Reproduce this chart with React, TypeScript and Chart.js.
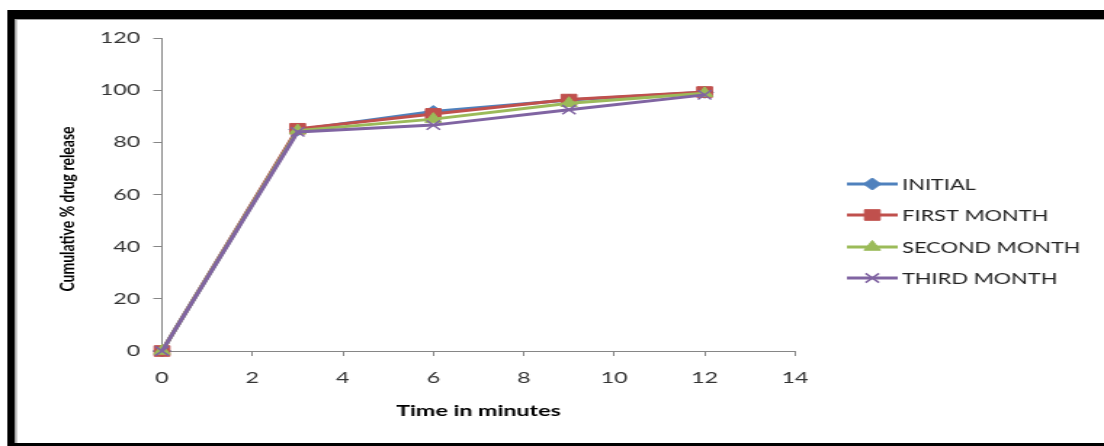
import React, { useEffect, useRef } from 'react';
import { Chart, registerables } from 'chart.js';
import { drawPoint } from 'chart.js/helpers';

Chart.register(...registerables);

// ---- data ----
const times = [0, 3, 6, 9, 12];
const initial = [0, 84.8, 91.8, 96.2, 99.2];
const firstMonth = [0, 85.2, 90.9, 96.4, 99.3];
const secondMonth = [0, 84.5, 88.9, 95.0, 98.8];
const thirdMonth = [0, 84.0, 86.6, 92.5, 98.2];
const seriesNames = ['INITIAL', 'FIRST MONTH', 'SECOND MONTH', 'THIRD MONTH'];
const yTitle = 'Cumulative % drug release';
const xTitle = 'Time in minutes';

// ---- styles ----
const colors = ['#4F81BD', '#C0504D', '#9BBB59', '#8064A2'];
const pointStyles = ['rectRot', 'rect', 'triangle', 'crossRot'];
const pointRadii = [6, 7.5, 6.5, 6.5];

const W = 760;
const H = 446;
const DISPLAY_W = 1104;

const decor = {
  id: 'decor',
  beforeDraw(chart: any) {
    const ctx = chart.ctx;
    ctx.save();
    ctx.fillStyle = '#ffffff';
    ctx.fillRect(0, 0, chart.width, chart.height);
    ctx.fillStyle = '#000000';
    ctx.fillRect(5, 10, chart.width - 5, 9);
    ctx.fillRect(5, 10, 5.3, chart.height - 10);
    ctx.fillRect(5, 443, chart.width - 5, 3);
    ctx.fillStyle = '#a0a0a0';
    ctx.fillRect(10.3, 19, 1.2, 424);
    ctx.fillRect(10.3, 19, chart.width, 1);
    ctx.restore();
  },
  afterDraw(chart: any) {
    const ctx = chart.ctx;
    ctx.save();
    // y axis title
    ctx.translate(46.1, 209);
    ctx.rotate(-Math.PI / 2);
    ctx.font = 'bold 14px Lato';
    ctx.fillStyle = '#000000';
    ctx.textAlign = 'center';
    ctx.textBaseline = 'middle';
    ctx.fillText(yTitle, 0, 0);
    ctx.restore();

    // legend
    const ys = [184, 215, 247, 278];
    chart.data.datasets.forEach((ds: any, i: number) => {
      const y = ys[i];
      ctx.save();
      ctx.strokeStyle = ds.borderColor;
      ctx.lineWidth = 3;
      ctx.beginPath();
      ctx.moveTo(583, y);
      ctx.lineTo(618, y);
      ctx.stroke();
      ctx.fillStyle = ds.pointBackgroundColor;
      ctx.strokeStyle = ds.pointBorderColor;
      ctx.lineWidth = ds.pointBorderWidth;
      drawPoint(ctx, { pointStyle: ds.pointStyle, radius: ds.pointRadius, rotation: 0, borderWidth: ds.pointBorderWidth }, 600.5, y);
      ctx.font = '15px Lato';
      ctx.fillStyle = '#222222';
      ctx.textAlign = 'left';
      ctx.textBaseline = 'middle';
      ctx.fillText(ds.label, 621, y + 1);
      ctx.restore();
    });
  },
};

export default function App() {
  const ref = useRef<HTMLCanvasElement | null>(null);

  useEffect(() => {
    if (!ref.current) return;
    const series = [initial, firstMonth, secondMonth, thirdMonth];
    const datasets = series.map((vals, i) => ({
      label: seriesNames[i],
      data: times.map((t, j) => ({ x: t, y: vals[j] })),
      borderColor: colors[i],
      backgroundColor: colors[i],
      pointBackgroundColor: colors[i],
      pointBorderColor: colors[i],
      pointBorderWidth: i === 3 ? 1.5 : 1,
      pointStyle: pointStyles[i],
      pointRadius: pointRadii[i],
      borderWidth: 3,
      showLine: true,
      tension: 0,
      clip: false,
      order: 4 - i,
    }));

    const chart = new Chart(ref.current, {
      type: 'scatter',
      data: { datasets },
      plugins: [decor],
      options: {
        animation: false,
        responsive: false,
        devicePixelRatio: 1,
        layout: { padding: { left: 12, top: 38, right: W - 547.3, bottom: 20 } },
        plugins: { legend: { display: false }, tooltip: { enabled: false } },
        scales: {
          x: {
            type: 'linear',
            min: 0,
            max: 14,
            ticks: { stepSize: 2, padding: 12, color: '#333333', font: { family: 'Lato', size: 16 } },
            grid: { drawOnChartArea: false, drawTicks: true, tickLength: 5, color: '#868686' },
            border: { display: true, color: '#868686', width: 1 },
            title: { display: true, text: xTitle, color: '#000000', font: { family: 'Lato', size: 16, weight: 'bold' }, padding: { top: 0, bottom: 6 } },
            afterFit: (s: any) => { s.height = H - 20 - 351; },
          },
          y: {
            type: 'linear',
            min: 0,
            max: 120,
            ticks: { stepSize: 20, padding: 9, color: '#333333', font: { family: 'Lato', size: 16 } },
            grid: { drawOnChartArea: false, drawTicks: true, tickLength: 6, color: '#868686' },
            border: { display: true, color: '#868686', width: 1 },
            afterFit: (s: any) => { s.width = 111.5 - 12; },
          },
        },
      },
    } as any);
    return () => chart.destroy();
  }, []);

  return (
    <div style={{ position: 'fixed', left: 0, top: 0, width: DISPLAY_W, height: H, background: '#fff' }}>
      <canvas ref={ref} width={W} height={H} style={{ width: DISPLAY_W + 'px', height: H + 'px', display: 'block' }} />
    </div>
  );
}
